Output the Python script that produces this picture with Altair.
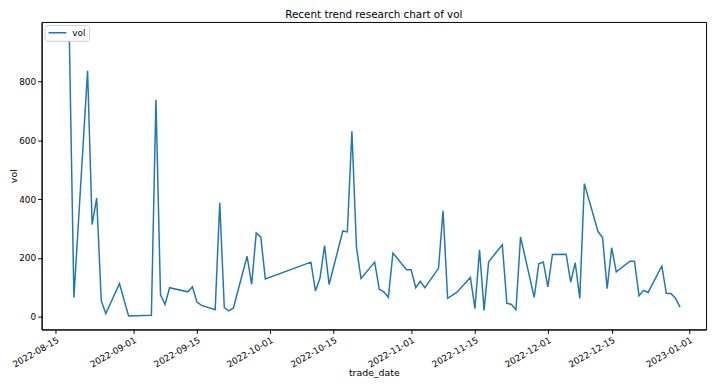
import altair as alt
import pandas as pd

dates = [
    "2022-08-18", "2022-08-19", "2022-08-22", "2022-08-23", "2022-08-24", "2022-08-25",
    "2022-08-26", "2022-08-29", "2022-08-31", "2022-09-05", "2022-09-06", "2022-09-07",
    "2022-09-08", "2022-09-09", "2022-09-13", "2022-09-14", "2022-09-15", "2022-09-16",
    "2022-09-19", "2022-09-20", "2022-09-21", "2022-09-22", "2022-09-23", "2022-09-26",
    "2022-09-27", "2022-09-28", "2022-09-29", "2022-09-30", "2022-10-10", "2022-10-11",
    "2022-10-12", "2022-10-13", "2022-10-14", "2022-10-17", "2022-10-18", "2022-10-19",
    "2022-10-20", "2022-10-21", "2022-10-24", "2022-10-25", "2022-10-26", "2022-10-27",
    "2022-10-28", "2022-10-31", "2022-11-01", "2022-11-02", "2022-11-03", "2022-11-04",
    "2022-11-07", "2022-11-08", "2022-11-09", "2022-11-11", "2022-11-14", "2022-11-15",
    "2022-11-16", "2022-11-17", "2022-11-18", "2022-11-21", "2022-11-22", "2022-11-23",
    "2022-11-24", "2022-11-25", "2022-11-28", "2022-11-29", "2022-11-30", "2022-12-01",
    "2022-12-02", "2022-12-05", "2022-12-06", "2022-12-07", "2022-12-08", "2022-12-09",
    "2022-12-12", "2022-12-13", "2022-12-14", "2022-12-15", "2022-12-16", "2022-12-19",
    "2022-12-20", "2022-12-21", "2022-12-22", "2022-12-23", "2022-12-26", "2022-12-27",
    "2022-12-28", "2022-12-29", "2022-12-30",
]
vol = [
    950, 66, 837, 314, 404, 55,
    11, 113, 3, 5, 738, 75,
    42, 99, 85, 102, 50, 39,
    24, 388, 31, 20, 30, 206,
    110, 285, 272, 129, 186, 88,
    132, 242, 110, 292, 289, 631,
    237, 130, 186, 94, 85, 66,
    217, 160, 160, 99, 121, 99,
    165, 361, 63, 83, 134, 28,
    228, 22, 187, 245, 46, 42,
    24, 272, 66, 180, 186, 102,
    212, 213, 118, 184, 63, 453,
    290, 270, 96, 235, 153, 189,
    189, 72, 90, 83, 173, 79,
    79, 63, 33,
]
series_name = "vol"
tick_dates = [(2022, 8, 15), (2022, 9, 1), (2022, 9, 15), (2022, 10, 1), (2022, 10, 15),
              (2022, 11, 1), (2022, 11, 15), (2022, 12, 1), (2022, 12, 15), (2023, 1, 1)]
y_ticks = [0, 200, 400, 600, 800]

df = pd.DataFrame({"trade_date": [d + "T00:00:00Z" for d in dates], "vol": vol,
                   "series": series_name})

FONT = "DejaVu Sans"

x_enc = alt.X(
    "trade_date:T",
    title="trade_date",
    scale=alt.Scale(
        type="utc",
        domain=[alt.DateTime(year=2022, month=8, date=11, hours=22, utc=True),
                alt.DateTime(year=2023, month=1, date=4, hours=17, utc=True)],
        nice=False,
    ),
    axis=alt.Axis(
        values=[alt.DateTime(year=y, month=m, date=d, utc=True) for (y, m, d) in tick_dates],
        format="%Y-%m-%d",
        labelAngle=-30,
        labelAlign="right",
        labelBaseline="top",
        grid=False,
        titlePadding=-1,
    ),
)
y_enc = alt.Y(
    "vol:Q",
    title="vol",
    scale=alt.Scale(domain=[-43, 1003], nice=False, zero=False),
    axis=alt.Axis(values=y_ticks, grid=False, titlePadding=0),
)

chart = (
    alt.Chart(df)
    .mark_line(strokeWidth=1.5, clip=True)
    .encode(
        x=x_enc,
        y=y_enc,
        color=alt.Color(
            "series:N",
            scale=alt.Scale(range=["#1f77b4"]),
            legend=alt.Legend(
                title=None,
                orient="top-left",
                offset=3,
                symbolType="stroke",
                symbolSize=324,
                clipHeight=10,
                symbolStrokeWidth=1.5,
                labelFontSize=9,
                labelFont=FONT,
                labelColor="black",
                labelOffset=5,
                fillColor="white",
                strokeColor="#cccccc",
                cornerRadius=3,
                padding=3,
            ),
        ),
    )
    .properties(
        width=672,
        height=311,
        title=alt.TitleParams("Recent trend research chart of vol", fontSize=10.5,
                              fontWeight="normal", font=FONT, color="black", offset=1),
        autosize=alt.AutoSizeParams(type="none"),
        padding={"left": 34, "top": 12, "right": 6, "bottom": 48},
    )
    .configure_view(stroke="black", strokeWidth=1)
    .configure_axis(
        domainColor="black",
        tickColor="black",
        tickSize=4,
        labelColor="black",
        labelFont=FONT,
        labelFontSize=9,
        titleFont=FONT,
        titleFontSize=9.5,
        titleFontWeight="normal",
        titleColor="black",
        labelPadding=2,
    )
)

chart.save("out.html", embed_options={"renderer": "svg", "actions": False})
